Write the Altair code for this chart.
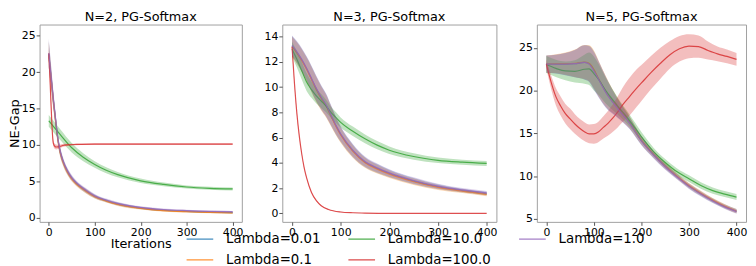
import altair as alt
import pandas as pd

# ---------------- data ----------------
PLOT_ORDER = ["0.01", "0.1", "10.0", "100.0", "1.0"]
LEGEND_ORDER = ["0.01", "0.1", "10.0", "100.0", "1.0"]
COLORS = {"0.01": "#1f77b4", "0.1": "#ff7f0e", "10.0": "#2ca02c",
          "100.0": "#d62728", "1.0": "#9467bd"}
TITLES = ["N=2, PG-Softmax", "N=3, PG-Softmax", "N=5, PG-Softmax"]

# N=2
N2_X_A = [0, 5, 10, 15, 20, 25, 30, 40, 50, 60, 80, 100, 125, 150, 200, 250, 300, 350, 400]
N2_L001 = [22.5, 19.3, 16.1, 13.3, 10.7, 9.0, 7.9, 6.4, 5.4, 4.7, 3.7, 2.9, 2.3, 1.85, 1.3, 1.0, 0.85, 0.75, 0.68]
N2_L001_H = [1.8, 1.5, 1.1, 0.9, 0.7, 0.6, 0.5, 0.4, 0.35, 0.3, 0.3, 0.25, 0.2, 0.2, 0.15, 0.15, 0.12, 0.12, 0.1]
N2_L01 = [22.4, 19.2, 16.0, 13.2, 10.6, 8.9, 7.8, 6.3, 5.3, 4.6, 3.65, 2.85, 2.25, 1.8, 1.25, 0.95, 0.8, 0.7, 0.62]
N2_L01_H = [1.8, 1.5, 1.1, 0.9, 0.7, 0.6, 0.5, 0.4, 0.35, 0.3, 0.3, 0.25, 0.2, 0.2, 0.15, 0.15, 0.12, 0.12, 0.1]
N2_L1 = [22.6, 19.5, 16.3, 13.5, 10.8, 9.1, 8.0, 6.5, 5.5, 4.8, 3.8, 3.0, 2.4, 1.95, 1.4, 1.1, 0.95, 0.85, 0.8]
N2_L1_H = [2.0, 1.6, 1.2, 0.9, 0.7, 0.6, 0.5, 0.4, 0.35, 0.3, 0.3, 0.25, 0.2, 0.2, 0.15, 0.15, 0.12, 0.12, 0.1]
N2_X_B = [0, 25, 50, 75, 100, 125, 150, 200, 250, 300, 350, 400]
N2_L10 = [13.3, 11.4, 9.6, 8.3, 7.3, 6.5, 5.9, 5.05, 4.55, 4.2, 4.02, 3.93]
N2_L10_H = [0.8, 0.75, 0.65, 0.55, 0.45, 0.4, 0.35, 0.3, 0.25, 0.22, 0.2, 0.2]
N2_X_R = [0, 2, 4, 6, 8, 10, 13, 16, 20, 25, 30, 40, 60, 100, 200, 300, 400]
N2_L100 = [22.6, 20.0, 17.0, 14.0, 11.5, 10.2, 9.8, 9.7, 9.72, 9.8, 9.9, 10.0, 10.05, 10.1, 10.1, 10.1, 10.1]
N2_L100_H = [0.8, 0.8, 0.7, 0.6, 0.5, 0.4, 0.35, 0.35, 0.3, 0.25, 0.2, 0.15, 0.1, 0.1, 0.1, 0.1, 0.1]

# N=3
N3_X = [0, 10, 20, 30, 40, 50, 60, 70, 80, 90, 100, 125, 150, 175, 200, 250, 300, 350, 400]
N3_L001 = [13.25, 12.75, 12.15, 11.45, 10.65, 9.85, 9.15, 8.55, 7.75, 6.95, 6.25, 4.95, 4.05, 3.55, 3.15, 2.55, 2.1, 1.8, 1.55]
N3_L01 = [13.2, 12.7, 12.1, 11.4, 10.6, 9.8, 9.1, 8.5, 7.7, 6.9, 6.2, 4.9, 4.0, 3.5, 3.1, 2.5, 2.05, 1.75, 1.5]
N3_L1 = [13.3, 12.8, 12.2, 11.5, 10.7, 9.9, 9.2, 8.6, 7.8, 7.0, 6.3, 5.0, 4.1, 3.6, 3.2, 2.6, 2.15, 1.85, 1.62]
N3_ABC_H = [0.8, 0.85, 0.9, 0.95, 1.0, 1.0, 0.95, 0.9, 0.8, 0.7, 0.6, 0.5, 0.4, 0.35, 0.3, 0.25, 0.2, 0.15, 0.15]
N3_L10 = [13.0, 12.2, 11.3, 10.4, 9.8, 9.3, 8.9, 8.5, 8.0, 7.6, 7.2, 6.5, 5.9, 5.4, 5.0, 4.5, 4.2, 4.05, 3.95]
N3_L10_H = [0.6, 0.65, 0.7, 0.7, 0.65, 0.6, 0.55, 0.5, 0.45, 0.42, 0.4, 0.37, 0.35, 0.33, 0.3, 0.25, 0.22, 0.2, 0.2]
N3_X_R = [0, 5, 10, 15, 20, 25, 30, 40, 50, 60, 75, 100, 125, 150, 200, 300, 400]
N3_L100 = [13.2, 10.3, 7.9, 6.1, 4.7, 3.6, 2.8, 1.65, 1.0, 0.6, 0.3, 0.1, 0.04, 0.02, 0.0, 0.0, 0.0]
N3_L100_H = [0.2, 0.15, 0.12, 0.1, 0.08, 0.07, 0.06, 0.05, 0.04, 0.03, 0.02, 0.02, 0.01, 0.01, 0.01, 0.01, 0.01]

# N=5
N5_X = [0, 20, 40, 60, 80, 90, 100, 110, 125, 150, 175, 200, 225, 250, 275, 300, 325, 350, 375, 400]
N5_L001 = [23.1, 23.1, 23.1, 23.15, 23.3, 23.15, 22.4, 21.35, 19.85, 17.95, 16.25, 14.15, 12.55, 11.15, 9.95, 8.85, 7.95, 7.15, 6.45, 5.9]
N5_L01 = [23.1, 23.15, 23.15, 23.2, 23.35, 23.2, 22.5, 21.4, 19.9, 18.0, 16.3, 14.2, 12.6, 11.2, 10.0, 8.9, 8.0, 7.2, 6.5, 5.9]
N5_L1 = [23.1, 23.1, 23.1, 23.15, 23.3, 23.1, 22.3, 21.3, 19.8, 17.9, 16.2, 14.1, 12.5, 11.1, 9.9, 8.8, 7.9, 7.1, 6.4, 5.85]
N5_ABC_H = [1.0, 1.1, 1.3, 1.6, 2.0, 2.1, 2.2, 2.1, 1.8, 1.1, 0.7, 0.5, 0.4, 0.35, 0.3, 0.3, 0.28, 0.25, 0.25, 0.25]
N5_L10 = [23.05, 22.6, 22.3, 22.25, 22.5, 22.55, 22.0, 21.3, 20.0, 18.2, 16.5, 14.6, 12.9, 11.6, 10.5, 9.7, 8.9, 8.3, 7.9, 7.55]
N5_L10_H = [1.0, 1.0, 1.1, 1.3, 1.7, 1.9, 2.0, 1.8, 1.5, 1.0, 0.7, 0.55, 0.45, 0.4, 0.4, 0.4, 0.38, 0.36, 0.35, 0.35]
N5_X_R = [0, 10, 20, 30, 40, 50, 60, 70, 80, 90, 100, 110, 120, 130, 140, 150, 160, 175, 190, 200,
          220, 240, 260, 280, 300, 320, 340, 360, 380, 400]
N5_L100 = [23.1, 21.0, 19.3, 18.2, 17.3, 16.7, 16.1, 15.6, 15.2, 14.95, 14.95, 15.2, 15.7, 16.2, 16.8, 17.5, 18.3, 19.3, 20.3, 20.9,
           22.1, 23.2, 24.2, 24.9, 25.2, 25.15, 24.7, 24.3, 24.0, 23.65]
N5_L100_H = [0.5, 0.8, 1.0, 1.1, 1.15, 1.2, 1.15, 1.1, 1.1, 1.1, 1.15, 1.2, 1.3, 1.45, 1.6, 1.8, 2.0, 2.2, 2.2, 2.1,
             1.95, 1.8, 1.6, 1.5, 1.4, 1.3, 1.05, 0.85, 0.8, 0.75]

PANELS = [
    {"0.01": (N2_X_A, N2_L001, N2_L001_H), "0.1": (N2_X_A, N2_L01, N2_L01_H),
     "10.0": (N2_X_B, N2_L10, N2_L10_H), "100.0": (N2_X_R, N2_L100, N2_L100_H),
     "1.0": (N2_X_A, N2_L1, N2_L1_H)},
    {"0.01": (N3_X, N3_L001, N3_ABC_H), "0.1": (N3_X, N3_L01, N3_ABC_H),
     "10.0": (N3_X, N3_L10, N3_L10_H), "100.0": (N3_X_R, N3_L100, N3_L100_H),
     "1.0": (N3_X, N3_L1, N3_ABC_H)},
    {"0.01": (N5_X, N5_L001, N5_ABC_H), "0.1": (N5_X, N5_L01, N5_ABC_H),
     "10.0": (N5_X, N5_L10, N5_L10_H), "100.0": (N5_X_R, N5_L100, N5_L100_H),
     "1.0": (N5_X, N5_L1, N5_ABC_H)},
]
Y_DOMAINS = [[-0.6, 26.55], [-0.68, 14.96], [4.65, 27.73]]
Y_TICKS = [[0, 5, 10, 15, 20, 25], [0, 2, 4, 6, 8, 10, 12, 14], [5, 10, 15, 20, 25]]
WIDTHS = [205, 217, 212]
X_TICKS = [0, 100, 200, 300, 400]

FONT = "DejaVu Sans"
LABELS = [f"Lambda={l}" for l in LEGEND_ORDER]
color_scale = alt.Scale(domain=LABELS, range=[COLORS[l] for l in LEGEND_ORDER])
LEGEND = alt.Legend(title=None, orient="none", legendX=148, legendY=203,
                    columns=3, symbolType="stroke", symbolSize=729,
                    symbolStrokeWidth=1.5, symbolOpacity=0.7,
                    labelFontSize=13.5, labelFont=FONT, labelOffset=12,
                    columnPadding=25, rowPadding=0, labelColor="black")


def make_panel(i):
    layers = []
    xscale = alt.Scale(domain=[-20, 420], nice=False, zero=False)
    yscale = alt.Scale(domain=Y_DOMAINS[i], nice=False, zero=False)
    xaxis = alt.Axis(values=X_TICKS, title="Iterations" if i == 0 else None)
    yaxis = alt.Axis(values=Y_TICKS[i], title="NE-Gap" if i == 0 else None)
    for lam in PLOT_ORDER:
        xs, ys, hs = PANELS[i][lam]
        df = pd.DataFrame({
            "x": xs, "y": ys,
            "lo": [a - b for a, b in zip(ys, hs)],
            "hi": [a + b for a, b in zip(ys, hs)],
            "lambda": f"Lambda={lam}",
        })
        color = alt.Color("lambda:N", scale=color_scale, legend=LEGEND)
        band = alt.Chart(df).mark_area(opacity=0.3, clip=True, interpolate="monotone").encode(
            x=alt.X("x:Q", scale=xscale, axis=xaxis),
            y=alt.Y("lo:Q", scale=yscale, axis=yaxis), y2="hi:Q",
            color=color,
        )
        line = alt.Chart(df).mark_line(opacity=0.8, strokeWidth=1.2, clip=True,
                                       interpolate="monotone").encode(
            x=alt.X("x:Q", scale=xscale, axis=xaxis),
            y=alt.Y("y:Q", scale=yscale, axis=yaxis),
            color=color,
        )
        layers += [band, line]
    return alt.layer(*layers).properties(
        width=WIDTHS[i], height=200,
        title=alt.TitleParams(TITLES[i], fontSize=13, font=FONT, fontWeight="normal",
                              color="black", offset=1, anchor="middle"),
    )


chart = alt.hconcat(*[make_panel(i) for i in range(3)], spacing=20).properties(
    padding={"left": 0, "top": 0, "right": 0, "bottom": 0}
).configure_view(
    stroke="#a0a0a0", strokeWidth=1
).configure_axis(
    grid=False, domain=False, labelFont=FONT, titleFont=FONT, labelFontSize=11,
    titleFontSize=13, labelColor="black", titleColor="black", titleFontWeight="normal",
    tickColor="#555", tickSize=3.5, labelPadding=1,
).configure_axisX(titlePadding=0).configure_axisY(titlePadding=0)

chart.save("out.html", embed_options={"renderer": "svg", "actions": False})
